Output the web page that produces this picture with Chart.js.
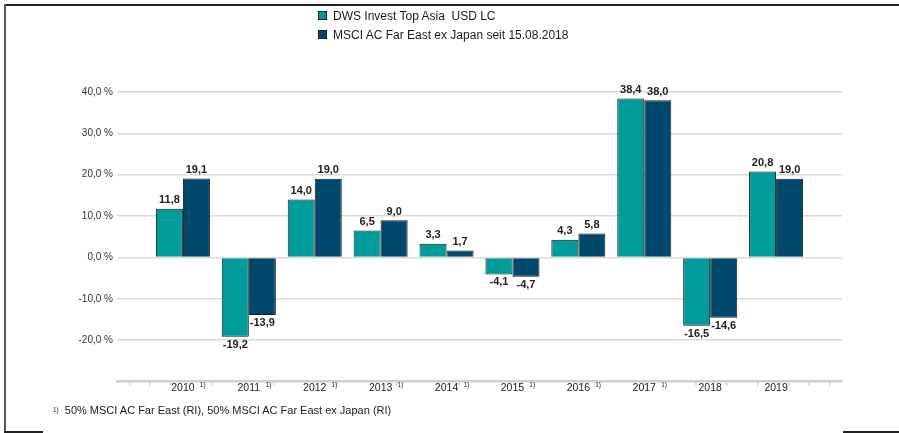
<!DOCTYPE html>
<html><head><meta charset="utf-8">
<script src="https://cdn.jsdelivr.net/npm/chart.js@4.4.1/dist/chart.umd.min.js"></script>
<style>
html,body{margin:0;padding:0;background:#fff;}
#wrap{position:relative;width:899px;height:433px;overflow:hidden;font-family:"Liberation Sans",Arial,sans-serif;background:#fff;}
#c{position:absolute;left:0;top:0;}
#legend{position:absolute;left:318px;top:6px;font-size:12px;color:#1a1a1a;}
.li{height:19px;display:flex;align-items:center;white-space:pre;}
.sw{width:7px;height:7px;border:1px solid #222;margin-right:6px;}
#foot{position:absolute;left:53px;top:403px;height:14px;line-height:14px;font-size:11px;color:#1a1a1a;white-space:pre;}
#foot sup{font-size:6.5px;vertical-align:2px;margin-right:6px;}
.fr{position:absolute;background:#222;}
</style></head>
<body>
<div id="wrap">
<canvas id="c" width="899" height="433"></canvas>
<div id="legend"></div>
<div id="foot"><sup>1)</sup>50% MSCI AC Far East (RI), 50% MSCI AC Far East ex Japan (RI)</div>
<div class="fr" style="left:5px;top:4px;width:894px;height:2px;"></div>
<div class="fr" style="left:4px;top:4px;width:2px;height:429px;background:#555;"></div>
<div class="fr" style="left:4px;top:431px;width:39px;height:2px;"></div>
<div class="fr" style="left:843px;top:431px;width:56px;height:2px;"></div>
</div>
<script>
const years = ['2010','2011','2012','2013','2014','2015','2016','2017','2018','2019'];
const fundValues = [11.8, -19.2, 14.0, 6.5, 3.3, -4.1, 4.3, 38.4, -16.5, 20.8];
const benchValues = [19.1, -13.9, 19.0, 9.0, 1.7, -4.7, 5.8, 38.0, -14.6, 19.0];
const footnoteYears = [true, true, true, true, true, true, true, true, false, false];
const seriesNames = ['DWS Invest Top Asia  USD LC', 'MSCI AC Far East ex Japan seit 15.08.2018'];
const seriesColors = ['#009b9b', '#00486c'];
const yMin = -30, yMax = 40, yStep = 10;
const footnoteMark = '1)';

const FONT = '"Liberation Sans", Arial, sans-serif';
const fmt = v => v.toFixed(1).replace('.', ',');

// category labels padded with one empty slot on each side
const catLabels = [''].concat(years, ['']);
const pad = arr => [null].concat(arr, [null]);

// axis tick marks: every third of a category, except at group centres and under footnote marks
const axisTicks = [];
for (let i = 0; i <= (years.length + 1) * 3; i++) {
  const v = i / 3;
  const k = Math.floor(i / 3);
  if (i % 3 === 0 && k > 0 && k <= years.length) continue;
  if (i % 3 === 1 && k >= 1 && k <= years.length && footnoteYears[k - 1]) continue;
  axisTicks.push(v);
}

const valueLabels = {
  id: 'valueLabels',
  afterDatasetsDraw(chart) {
    const ctx = chart.ctx;
    ctx.save();
    ctx.font = 'bold 11px ' + FONT;
    ctx.fillStyle = '#222';
    ctx.textAlign = 'center';
    chart.data.datasets.forEach((ds, i) => {
      const meta = chart.getDatasetMeta(i);
      meta.data.forEach((bar, j) => {
        const v = ds.data[j];
        if (v == null) return;
        if (v >= 0) { ctx.textBaseline = 'alphabetic'; ctx.fillText(fmt(v), bar.x, bar.y - 5.5); }
        else { ctx.textBaseline = 'top'; ctx.fillText(fmt(v), bar.x, bar.y + 2.5); }
      });
    });
    ctx.restore();
  }
};

const footMarks = {
  id: 'footMarks',
  afterDraw(chart) {
    const sc = chart.scales.x;
    const ctx = chart.ctx;
    ctx.save();
    ctx.font = '6.5px ' + FONT;
    ctx.fillStyle = '#222';
    ctx.textAlign = 'center';
    ctx.textBaseline = 'middle';
    const w = sc.getPixelForValue(2) - sc.getPixelForValue(1);
    footnoteYears.forEach((f, j) => {
      if (!f) return;
      const x = sc.getPixelForValue(j + 1) + w * 0.3;
      ctx.fillText(footnoteMark, x, sc.top + 4);
    });
    ctx.restore();
  }
};

const chart = new Chart(document.getElementById('c'), {
  type: 'bar',
  data: {
    labels: catLabels,
    datasets: [
      { label: seriesNames[0], data: pad(fundValues), backgroundColor: seriesColors[0], borderColor: '#1a1a1a', borderWidth: 1 },
      { label: seriesNames[1], data: pad(benchValues), backgroundColor: seriesColors[1], borderColor: '#1a1a1a', borderWidth: 1 }
    ]
  },
  options: {
    responsive: false,
    devicePixelRatio: 1,
    animation: false,
    layout: { padding: { top: 92, right: 57, bottom: 31.5, left: 0 } },
    datasets: { bar: { categoryPercentage: 0.82, barPercentage: 1.0 } },
    plugins: { legend: { display: false }, tooltip: { enabled: false } },
    scales: {
      y: {
        min: yMin, max: yMax,
        afterFit: s => { s.width = 117; },
        ticks: {
          stepSize: yStep, padding: 4, color: '#333',
          font: { size: 10, family: FONT },
          callback: v => v === yMin ? '' : fmt(v) + ' %'
        },
        grid: {
          drawTicks: false, lineWidth: 1.5,
          color: c => (c.tick && c.tick.value === yMin) ? 'rgba(0,0,0,0)' : '#dcd9d2'
        },
        border: { display: false }
      },
      x: {
        type: 'category', offset: false, weight: 1,
        afterFit: s => { s.height = 20; },
        grid: { display: false, drawTicks: false },
        border: { display: false },
        ticks: { autoSkip: false, maxRotation: 0, padding: 0, color: '#222', font: { size: 10.5, family: FONT } }
      },
      x2: {
        type: 'linear', position: 'bottom', min: 0, max: years.length + 1, weight: 0,
        afterBuildTicks: s => { s.ticks = axisTicks.map(v => ({ value: v })); },
        afterFit: s => { s.height = 0; },
        ticks: { display: false },
        grid: { drawOnChartArea: false, drawTicks: true, tickLength: 4, color: '#d2cec6', lineWidth: 1.5 },
        border: { display: true, color: '#d2cec6', width: 2.5 }
      }
    }
  },
  plugins: [valueLabels, footMarks]
});

// HTML legend built from the chart's datasets
const lg = document.getElementById('legend');
chart.data.datasets.forEach(ds => {
  const row = document.createElement('div'); row.className = 'li';
  const sw = document.createElement('span'); sw.className = 'sw'; sw.style.background = ds.backgroundColor;
  const tx = document.createElement('span'); tx.textContent = ds.label;
  row.appendChild(sw); row.appendChild(tx); lg.appendChild(row);
});
</script>
</body></html>
